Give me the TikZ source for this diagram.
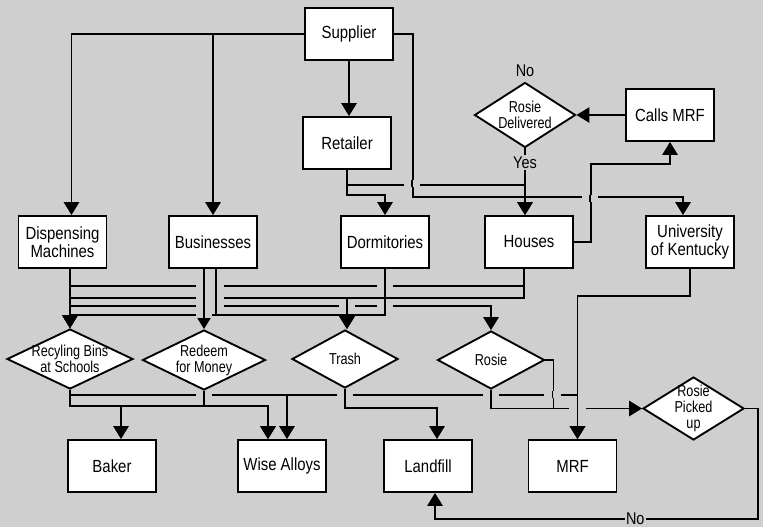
\documentclass[tikz,border=0pt]{standalone}
\usepackage{fontspec}
\setmainfont{Liberation Sans}
\newfontfamily\boxfont[FakeStretch=0.85]{Liberation Sans}
\newfontfamily\diafont[FakeStretch=0.8]{Liberation Sans}
\usetikzlibrary{shapes.geometric, arrows.meta, positioning, calc}
\definecolor{bggray}{RGB}{207,207,207}

\begin{document}
\begin{tikzpicture}[
    x=0.03cm, y=-0.03cm,
    box/.style={
        rectangle, draw=black, fill=white, line width=1.6pt,
        minimum width=2.64cm, minimum height=1.56cm, align=center,
        font=\boxfont\fontsize{15}{13.5}\selectfont
    },
    choice/.style={
        diamond, draw=black, fill=white, line width=1.6pt,
        inner sep=-3pt, align=center,
        font=\diafont\fontsize{13.5}{13.5}\selectfont
    },
    arrow/.style={line width=1.6pt, -{Triangle[width=13pt,length=11pt]}},
    wire/.style={line width=1.6pt},
    hop/.style={line width=1.6pt, preaction={draw=bggray, line width=14pt}},
    ylabel/.style={fill=bggray, inner sep=1pt, font=\boxfont\fontsize{14.5}{14}\selectfont}
]
    \fill[bggray] (0,0) rectangle (763,527);
    % Nodes
    \node (supplier) [box] at (349,34) {Supplier};
    \node (retailer) [box] at (347,143) {Retailer};
    \node (rosiedel) [choice, minimum width=3.03cm, minimum height=1.95cm, shape aspect=1.55] at (525,115) {Rosie\\Delivered};
    \node (callsmrf) [box] at (670,115) {Calls MRF};
    \node (dispensing) [box] at (62.5,242) {Dispensing\\Machines};
    \node (businesses) [box] at (213,242) {Businesses};
    \node (dormitories) [box] at (385,242) {Dormitories};
    \node (houses) [box] at (529,242) {Houses};
    \node (uk) [box] at (690,242) {University\\of Kentucky};
    \node (recycling) [choice, minimum width=3.78cm, minimum height=1.8cm, shape aspect=2.1] at (70,359) {Recyling Bins\\at Schools};
    \node (redeem) [choice, minimum width=3.69cm, minimum height=1.8cm, shape aspect=2.05] at (204,360) {Redeem\\for Money};
    \node (trash) [choice, minimum width=3.18cm, minimum height=1.74cm, shape aspect=1.8] at (345,359) {Trash};
    \node (rosie) [choice, minimum width=3.21cm, minimum height=1.74cm, shape aspect=1.8] at (491,360) {Rosie};
    \node (rosiepick) [choice, minimum width=3.03cm, minimum height=1.89cm, shape aspect=1.6] at (693.5,408.5) {Rosie\\Picked\\up};
    \node (baker) [box] at (112,466) {Baker};
    \node (wise) [box] at (282,466) {Wise Alloys};
    \node (landfill) [box] at (428,466) {Landfill};
    \node (mrf) [box] at (572.5,466) {MRF};
    % Connections
    \draw [arrow] (supplier.west) -| ($(dispensing.north)+(9,0)$);
    \draw [arrow] (supplier.west) -| (businesses.north);
    \draw [arrow] (supplier.south) -- (supplier.south |- retailer.north);
    \draw [arrow] (retailer.south) -- ++(0,25) -| (dormitories.north);
    \draw [arrow] (retailer.south) -- ++(0,15) -| (rosiedel.south |- houses.north);
    \draw [arrow] (supplier.east) -- ++(19,0) |- ($(uk.north)+(-7,-18)$) -- ($(uk.north)+(-7,0)$);
    \draw [arrow] (rosiedel.south) -- (rosiedel.south |- houses.north) node[pos=0.21, ylabel] {Yes};
    \draw [arrow] (callsmrf.west) -- (rosiedel.east);
    \draw [arrow] (houses.east) -- ++(17,0) |- ($(callsmrf.south)+(0,22)$) -- (callsmrf.south);
    \draw [arrow] (uk.south) -- ++(0,27) -| ($(mrf.north)+(5,0)$);
    % bus down to the diamonds
    \draw [arrow] ($(dispensing.south)+(7.5,0)$) -- (recycling.north);
    \draw [arrow] ($(houses.south)+(-5,0)$) -- ++(0,17) -| (recycling.north);
    \draw [arrow] ($(houses.south)+(-5,0)$) -- ++(0,29) -| ($(trash.north)+(2,0)$);
    \draw [arrow] ($(dispensing.south)+(7.5,0)$) -- ++(0,29) -| ($(trash.north)+(2,0)$);
    \draw [arrow] ($(dispensing.south)+(7.5,0)$) -- ++(0,37) -| (rosie.north);
    \draw [arrow] (dormitories.south) -- ++(0,46) -| (recycling.north);
    \draw [arrow] ($(businesses.south)+(3,0)$) -- ++(0,46) -| (recycling.north);
    \draw [arrow] (businesses.south -| redeem.north) -- (redeem.north);
    % diamonds down to the sinks
    \draw [arrow] (recycling.south) -- ++(0,16) -| ($(baker.north)+(9,0)$);
    \draw [arrow] (recycling.south) -- ++(0,16) -| ($(wise.north)+(-14,0)$);
    \draw [arrow] (redeem.south) -- ++(0,15) -| ($(wise.north)+(-14,0)$);
    \draw [arrow] (recycling.south) -- ++(0,5) -| ($(wise.north)+(5,0)$);
    \draw [arrow] (recycling.south) -- ++(0,5) -| ($(mrf.north)+(5,0)$);
    \draw [arrow] (trash.south) -- ++(0,19) -| ($(landfill.north)+(9,0)$);
    \draw [arrow] (rosie.south) |- (rosiepick.west);
    \draw [wire] (rosie.east) -- ++(8,0) |- (rosiepick.west);
    \draw [arrow] (rosiepick.east) -- ++(13,0) |- ($(landfill.south)+(7,26)$) node[pos=0.69, ylabel] {No} -- ($(landfill.south)+(7,0)$);
    % Labels
    \node (nolabel) [above=3pt of rosiedel, inner sep=1pt, font=\boxfont\fontsize{14.5}{14}\selectfont] {No};
    % line hops
    \foreach \hx/\hy in {412/183, 590/198, 204/285, 216/285, 385/285,
        204/297, 216/297, 204/305, 216/305, 347/305, 385/305,
        204/314, 204/394, 345/394, 491/394, 552.5/394, 577.5/408.5}
        \draw [hop] (\hx,\hy-3.5) -- (\hx,\hy+3.5);
\end{tikzpicture}
\end{document}
